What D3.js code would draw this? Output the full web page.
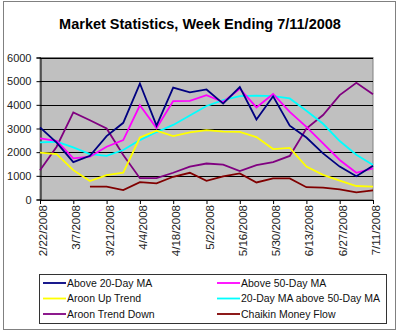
<!DOCTYPE html>
<html>
<head>
<meta charset="utf-8">
<script src="https://cdn.jsdelivr.net/npm/d3@7"></script>
<style>
  html, body { margin: 0; padding: 0; background: #fff; }
  svg { display: block; font-family: "Liberation Sans", Arial, sans-serif; }
</style>
</head>
<body>
<svg id="chart" width="400" height="331"></svg>
<script>
const dates = ["2/22/2008","2/29/2008","3/7/2008","3/14/2008","3/21/2008","3/28/2008","4/4/2008","4/11/2008","4/18/2008","4/25/2008","5/2/2008","5/9/2008","5/16/2008","5/23/2008","5/30/2008","6/6/2008","6/13/2008","6/20/2008","6/27/2008","7/4/2008","7/11/2008"];
const tickLabels = ["2/22/2008","3/7/2008","3/21/2008","4/4/2008","4/18/2008","5/2/2008","5/16/2008","5/30/2008","6/13/2008","6/27/2008","7/11/2008"];
const yTicks = [0, 1000, 2000, 3000, 4000, 5000, 6000];

const above20 = [3050, 2400, 1580, 1850, 2680, 3240, 4900, 3120, 4730, 4530, 4650, 4050, 4750, 3380, 4360, 3120, 2620, 1950, 1390, 980, 1430];
const above50 = [2580, 2480, 1740, 1810, 2230, 2510, 3980, 3020, 4160, 4170, 4410, 4120, 4680, 3890, 4460, 3700, 3070, 2370, 1670, 1130, 1320];
const aroonUp = [1980, 1920, 1240, 780, 1030, 1130, 2620, 2910, 2680, 2840, 2930, 2870, 2860, 2640, 2130, 2180, 1390, 1040, 800, 570, 540];
const ma20above50 = [2410, 2440, 2200, 1920, 1840, 2090, 2510, 2850, 3150, 3550, 3950, 4200, 4370, 4390, 4370, 4270, 3750, 3200, 2470, 1890, 1460];
const aroonDown = [1240, 2230, 3680, 3350, 3000, 1880, 900, 900, 1130, 1390, 1520, 1470, 1200, 1450, 1580, 1840, 3000, 3570, 4410, 4930, 4450];
const chaikin = [null, null, null, 540, 540, 400, 730, 680, 960, 1130, 790, 980, 1100, 720, 890, 890, 520, 500, 430, 300, 390];

const seriesNames = ["Above 20-Day MA", "Above 50-Day MA", "Aroon Up Trend", "20-Day MA above 50-Day MA", "Aroon Trend Down", "Chaikin Money Flow"];
const seriesValues = [above20, above50, aroonUp, ma20above50, aroonDown, chaikin];
const seriesColors = ["#000080", "#FF00FF", "#FFFF00", "#00FFFF", "#800080", "#800000"];
const drawOrder = [5, 4, 3, 2, 1, 0];

(function () {
const svg = d3.select("#chart");
const pLeft = 40, pRight = 373, pTop = 57.5, pBottom = 199.5;

svg.append("rect").attr("x", 3.5).attr("y", 1.5).attr("width", 392).attr("height", 328)
  .attr("fill", "#fff").attr("stroke", "#808080").attr("stroke-width", 1);

svg.append("text").attr("x", 200).attr("y", 29).attr("text-anchor", "middle")
  .attr("font-weight", "bold").attr("font-size", "14.5px").attr("fill", "#000")
  .text("Market Statistics, Week Ending 7/11/2008");

const x = d3.scalePoint().domain(dates).range([pLeft, pRight]);
const y = d3.scaleLinear().domain([0, 6000]).range([pBottom, pTop]);

svg.append("rect").attr("x", pLeft).attr("y", pTop).attr("width", pRight - pLeft).attr("height", pBottom - pTop)
  .attr("fill", "#C0C0C0").attr("stroke", "#808080").attr("stroke-width", 1);

svg.append("g").selectAll("line").data(yTicks.filter(d => d > 0)).join("line")
  .attr("x1", pLeft).attr("x2", pRight)
  .attr("y1", d => Math.round(y(d)) + 0.5).attr("y2", d => Math.round(y(d)) + 0.5)
  .attr("stroke", "#000").attr("stroke-width", 1);

const yAxis = d3.axisLeft(y).tickValues(yTicks).tickSize(4).tickPadding(5).tickFormat(d3.format("d"));
const gy = svg.append("g").attr("transform", `translate(${pLeft + 0.5},0)`).call(yAxis);
gy.select(".domain").attr("stroke", "#000");
gy.selectAll(".tick line").attr("stroke", "#000");
gy.selectAll(".tick text").attr("font-size", "11px").attr("fill", "#222").attr("font-family", "Liberation Sans, Arial, sans-serif");

const xAxis = d3.axisBottom(x).tickValues(tickLabels).tickSize(4).tickSizeOuter(0);
const gx = svg.append("g").attr("transform", `translate(0,${pBottom + 0.5})`).call(xAxis);
gx.select(".domain").attr("stroke", "#000");
gx.selectAll(".tick line").attr("stroke", "#000");
gx.selectAll(".tick text")
  .attr("font-size", "11.5px").attr("fill", "#222").attr("font-family", "Liberation Sans, Arial, sans-serif")
  .attr("text-anchor", "end")
  .attr("transform", "translate(2.5,5) rotate(-90)")
  .attr("x", 0).attr("y", 0).attr("dy", "0.35em");

const lineGen = d3.line()
  .defined(d => d.v !== null)
  .x(d => x(d.date)).y(d => y(d.v));

const gl = svg.append("g");
drawOrder.forEach(i => {
  const data = dates.map((dt, k) => ({ date: dt, v: seriesValues[i][k] }));
  gl.append("path").datum(data).attr("d", lineGen)
    .attr("fill", "none").attr("stroke", seriesColors[i]).attr("stroke-width", 1.8)
    .attr("stroke-linejoin", "miter");
});

const lg = svg.append("g");
lg.append("rect").attr("x", 39.5).attr("y", 274.5).attr("width", 347).attr("height", 49)
  .attr("fill", "#fff").attr("stroke", "#333").attr("stroke-width", 1);
const colX = [43, 217];
const rowY = [283, 298.5, 314];
seriesNames.forEach((name, i) => {
  const c = i % 2, r = Math.floor(i / 2);
  const lx = colX[c], ly = rowY[r];
  lg.append("line").attr("x1", lx).attr("x2", lx + 23).attr("y1", ly).attr("y2", ly)
    .attr("stroke", seriesColors[i]).attr("stroke-width", 1.8);
  lg.append("text").attr("x", lx + 24).attr("y", ly).attr("dy", "0.35em")
    .attr("font-size", "10.5px").attr("fill", "#111").text(name);
});
})();
</script>
</body>
</html>
